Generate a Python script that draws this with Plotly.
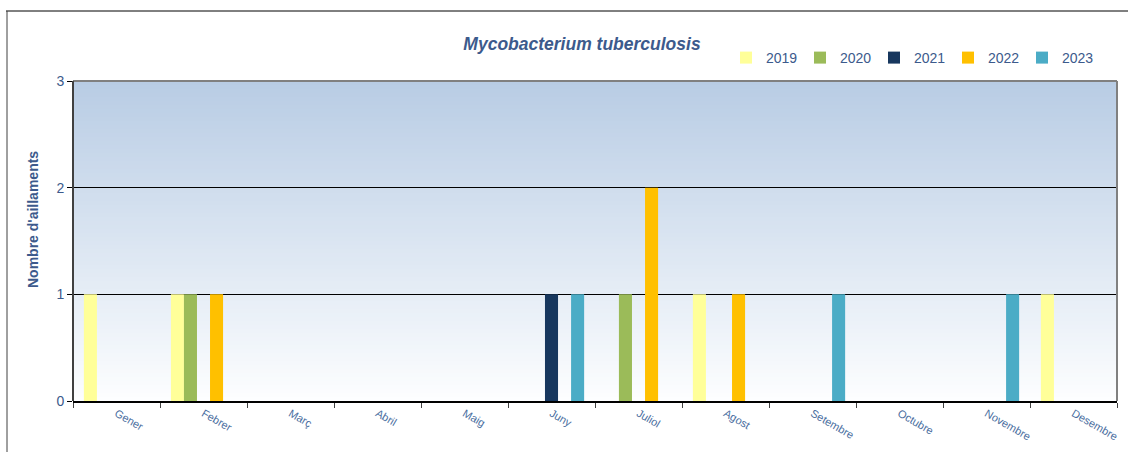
import plotly.graph_objects as go

months = ['Gener', 'Febrer', 'Març', 'Abril', 'Maig', 'Juny', 'Juliol',
          'Agost', 'Setembre', 'Octubre', 'Novembre', 'Desembre']
years = ['2019', '2020', '2021', '2022', '2023']
v2019 = [1, 1, 0, 0, 0, 0, 0, 1, 0, 0, 0, 1]
v2020 = [0, 1, 0, 0, 0, 0, 1, 0, 0, 0, 0, 0]
v2021 = [0, 0, 0, 0, 0, 1, 0, 0, 0, 0, 0, 0]
v2022 = [0, 1, 0, 0, 0, 0, 2, 1, 0, 0, 0, 0]
v2023 = [0, 0, 0, 0, 0, 1, 0, 0, 1, 0, 1, 0]
y_ticks = [0, 1, 2, 3]

series = [v2019, v2020, v2021, v2022, v2023]
colors = ['#FFFF99', '#9BBB59', '#17375E', '#FFC000', '#4BACC6']

BLUE = '#3C5A8C'
W, H = 1128, 455
L, R, T, B = 73, 11, 81, 54
PW, PH = W - L - R, H - T - B

fig = go.Figure()
for name, vals, col in zip(years, series, colors):
    fig.add_trace(go.Bar(name=name, x=months, y=vals, marker=dict(color=col, line=dict(width=0))))

shapes = []
# vertical gradient background
n = 80
top = (184, 204, 228)
bot = (253, 254, 255)
for i in range(n):
    t = (i + 0.5) / n
    c = tuple(round(bot[k] + (top[k] - bot[k]) * t) for k in range(3))
    shapes.append(dict(type='rect', xref='x domain', yref='y domain',
                       x0=0, x1=1, y0=i / n, y1=(i + 1) / n,
                       fillcolor='rgb(%d,%d,%d)' % c, line=dict(width=0), layer='below'))

def px2x(px):
    return (px - L) / PW

def py2y(py):
    return (H - B - py) / PH

# plot border: top and right grey, left dark grey
shapes.append(dict(type='line', xref='paper', yref='paper', x0=0, x1=1, y0=1, y1=1,
                   line=dict(color='#808080', width=2)))
shapes.append(dict(type='line', xref='paper', yref='paper', x0=1, x1=1, y0=0, y1=1,
                   line=dict(color='#808080', width=2)))
shapes.append(dict(type='line', xref='paper', yref='paper', x0=0, x1=0, y0=0, y1=1,
                   line=dict(color='#404040', width=2)))
# outer frame
shapes.append(dict(type='line', xref='paper', yref='paper', x0=px2x(6), x1=px2x(1128),
                   y0=py2y(11), y1=py2y(11), line=dict(color='#000000', width=1)))
shapes.append(dict(type='line', xref='paper', yref='paper', x0=px2x(7), x1=px2x(7),
                   y0=py2y(11), y1=py2y(452), line=dict(color='#404040', width=1)))

annotations = [dict(text="<b>Nombre d'aillaments</b>", textangle=-90, showarrow=False,
                    xref='paper', yref='paper', x=px2x(33), y=py2y(220),
                    xanchor='center', yanchor='middle',
                    font=dict(size=14, color=BLUE))]

fig.update_layout(
    width=W, height=H,
    margin=dict(l=L, r=R, t=T, b=B, autoexpand=False),
    paper_bgcolor='white', plot_bgcolor='white',
    barmode='group', bargap=0.25, bargroupgap=0,
    font=dict(family='Liberation Sans, Arial, sans-serif', color=BLUE),
    title=dict(text='<b><i>Mycobacterium tuberculosis</i></b>',
               x=582 / W, xanchor='center', y=1 - 44 / H, yanchor='middle',
               yref='container', font=dict(size=17.5, color=BLUE)),
    legend=dict(orientation='h', x=px2x(726), xanchor='left', y=py2y(58), yanchor='middle',
                font=dict(size=14, color=BLUE), bgcolor='rgba(0,0,0,0)',
                itemwidth=30, entrywidth=29, tracegroupgap=0),
    xaxis=dict(type='category', tickangle=30, tickson='boundaries',
               ticks='outside', ticklen=5, tickcolor='#404040',
               tickfont=dict(size=11, color='#4A6EA0'),
               showline=True, linecolor='#000000', linewidth=2,
               showgrid=False, fixedrange=True),
    yaxis=dict(range=[0, 3], tickvals=y_ticks, ticks='outside', ticklen=5,
               tickcolor='#000000', tickfont=dict(size=14, color=BLUE),
               showgrid=True, gridcolor='#000000', gridwidth=1,
               zeroline=False, showline=False, fixedrange=True),
    shapes=shapes,
    annotations=annotations,
)

fig.write_html('out.html', config={'displayModeBar': False},
               post_script="document.body.style.margin='0';")
